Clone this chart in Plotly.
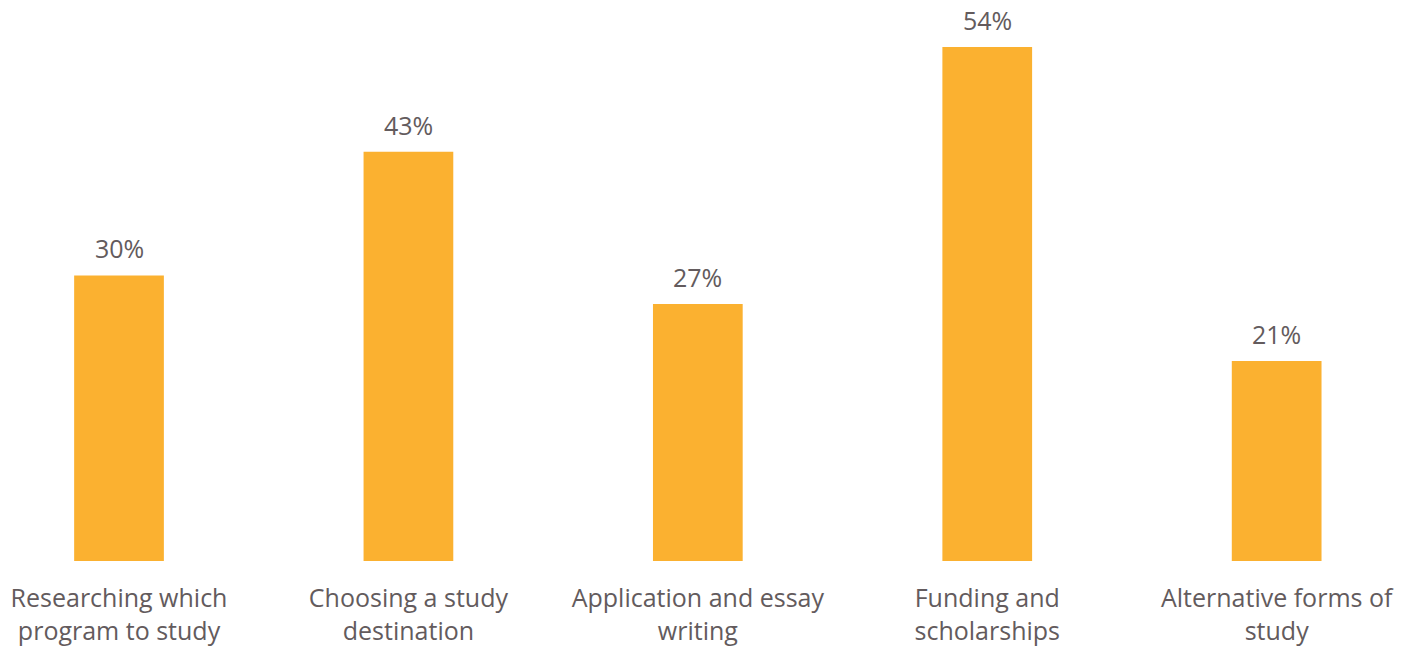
import plotly.graph_objects as go

categories = ["Researching which<br>program to study", "Choosing a study<br>destination",
              "Application and essay<br>writing", "Funding and<br>scholarships",
              "Alternative forms of<br>study"]
values = [30, 43, 27, 54, 21]
labels = [f"{v}%" for v in values]

BAR = "#FBB130"
TXT = "#635b5d"
FONT = "Open Sans"
xs = list(range(len(categories)))

fig = go.Figure(go.Bar(
    x=xs, y=values,
    marker=dict(color=BAR, line=dict(width=0)), width=0.31,
    hoverinfo="skip",
))

for x, v, t in zip(xs, values, labels):
    fig.add_annotation(x=x, y=v, text=t, showarrow=False, yanchor="bottom", yshift=8,
                       font=dict(family=FONT, size=25, color=TXT))

fig.update_layout(
    width=1415, height=646,
    margin=dict(l=0, r=0, t=0, b=85),
    paper_bgcolor="white", plot_bgcolor="white",
    showlegend=False,
    xaxis=dict(range=[-0.4112, 4.478], tickmode="array", tickvals=xs,
               ticktext=categories, showgrid=False, zeroline=False, showline=False,
               tickfont=dict(family=FONT, size=25, color=TXT), automargin=False, ticks="",
               ticklabelstandoff=20),
    yaxis=dict(range=[0, 58.94], visible=False, automargin=False),
    font=dict(family=FONT),
)

fig.write_html("out.html", config={"displayModeBar": False},
               post_script="document.body.style.margin='0';document.body.style.overflow='hidden';")
